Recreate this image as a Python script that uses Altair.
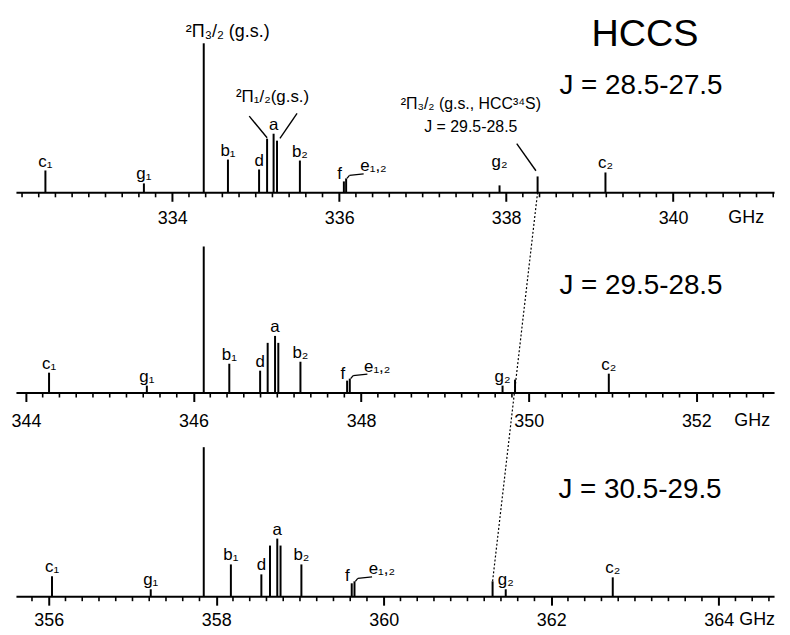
import altair as alt
import numpy as np
import pandas as pd

FONT = "Liberation Sans"

# ---------------- data ----------------
LINE_IDS = ["c1", "g1", "P32", "b1", "d", "P12_lo", "a", "P12_hi", "b2",
            "f", "e12", "g2", "HCC34S", "c2"]

# J = 28.5-27.5
top_freq = [332.48, 333.66, 334.377, 334.667, 335.04, 335.136, 335.214, 335.255,
            335.529, 336.056, 336.083, 337.921, 338.377, 339.19]
top_int = [22, 9, 150, 33, 23, 54, 59, 52, 32, 11, 14, 7, 16, 20]

# J = 29.5-28.5
mid_freq = [344.276, 345.443, 346.122, 346.427, 346.795, 346.885, 346.973, 347.012,
            347.276, 347.833, 347.865, 349.688, 349.837, 350.956]
mid_int = [20, 7, 147, 29, 22, 50, 57, 50, 31, 12, 14, 7, 13, 19]

# J = 30.5-29.5
bot_freq = [356.039, 357.218, 357.851, 358.175, 358.539, 358.642, 358.729, 358.768,
            359.017, 359.618, 359.651, 361.457, 361.30, 362.735]
bot_int = [20, 7, 150, 32, 22, 51, 58, 51, 32, 13, 15, 7, 15, 19]

ABOVE_LABELS = {"c1": "c₁", "g1": "g₁", "b1": "b₁", "d": "d", "a": "a",
                "b2": "b₂", "g2": "g₂", "c2": "c₂"}
F_TEXT = "f"
E_TEXT = "e₁,₂"

top_ticks = [334, 336, 338, 340]
mid_ticks = [344, 346, 348, 350, 352]
bot_ticks = [356, 358, 360, 362, 364]

top_range = [332.127, 341.210]
mid_range = [343.881, 352.928]
bot_range = [355.6085, 364.661]

TITLE = "HCCS"
top_J = "J = 28.5-27.5"
mid_J = "J = 29.5-28.5"
bot_J = "J = 30.5-29.5"
P32_TEXT = "²Π₃/₂ (g.s.)"
P12_TEXT = "²Π₁/₂(g.s.)"
ISO_TEXT = ["²Π₃/₂ (g.s., HCC³⁴S)", "J = 29.5-28.5"]
UNIT = "GHz"

# ---------------- layout ----------------
W, H = 763, 590
LEFT = 16  # page x of plot area
TICK_FS = 18


def fx(rng, px):
    return rng[0] + (px - LEFT) / W * (rng[1] - rng[0])


YS = alt.Scale(domain=[0, H], nice=False, zero=False)


def make_panel(freq, inten, rng, ticks, base, label_pad, j_text, j_px, ghz_px,
               lift=None, top_extras=False, connector=None):
    lift = lift or {}
    xs = alt.Scale(domain=rng, nice=False, zero=False)
    ax = alt.Axis(values=ticks, orient="bottom", offset=-base, tickSize=9, tickWidth=2,
                  tickColor="black", domainColor="black", domainWidth=2,
                  labelFont=FONT, labelFontSize=TICK_FS, labelColor="black",
                  labelPadding=label_pad, grid=False, title=None,
                  labelFlush=False, labelOverlap=False, format="d")

    def X(field):
        return alt.X(f"{field}:Q", scale=xs, axis=ax)

    def Y(field):
        return alt.Y(f"{field}:Q", scale=YS, axis=None)

    d = dict(zip(LINE_IDS, zip(freq, inten)))
    layers = []

    # sticks
    sdf = pd.DataFrame({"f": freq, "y0": [base] * len(freq),
                        "y1": [base + h for h in inten]})
    layers.append(alt.Chart(sdf).mark_rule(color="black", strokeWidth=2)
                  .encode(x=X("f"), y=Y("y0"), y2="y1:Q"))

    # minor ticks every 0.2 GHz
    start = np.ceil(rng[0] / 0.2) * 0.2
    mt = [round(v, 1) for v in np.arange(start, rng[1], 0.2)]
    mt = [v for v in mt if abs(v / 2 - round(v / 2)) > 1e-6]
    mdf = pd.DataFrame({"f": mt, "y0": base, "y1": base - 5})
    layers.append(alt.Chart(mdf).mark_rule(color="black", strokeWidth=1.6)
                  .encode(x=X("f"), y=Y("y0"), y2="y1:Q"))

    # labels above sticks
    rows = [{"f": d[k][0], "y": base + d[k][1] + 4 + lift.get(k, 0), "t": v}
            for k, v in ABOVE_LABELS.items()]
    layers.append(alt.Chart(pd.DataFrame(rows))
                  .mark_text(font=FONT, fontSize=17, color="black", baseline="alphabetic")
                  .encode(x=X("f"), y=Y("y"), text="t:N"))

    # f label
    ff, fh = d["f"]
    layers.append(alt.Chart(pd.DataFrame([{"f": ff, "y": base + fh + 2, "t": F_TEXT}]))
                  .mark_text(font=FONT, fontSize=17, color="black", baseline="alphabetic",
                             align="right", dx=-2)
                  .encode(x=X("f"), y=Y("y"), text="t:N"))

    # e label + leader
    ef, eh = d["e12"]
    layers.append(alt.Chart(pd.DataFrame([{"f": ef + 0.17, "y": base + eh + 7, "t": E_TEXT}]))
                  .mark_text(font=FONT, fontSize=17, color="black", baseline="alphabetic",
                             align="left")
                  .encode(x=X("f"), y=Y("y"), text="t:N"))
    ldf = pd.DataFrame([
        {"f": ef + 0.01, "f2": ef + 0.04, "y": base + eh, "y2": base + eh + 3},
        {"f": ef + 0.04, "f2": ef + 0.21, "y": base + eh + 3, "y2": base + eh + 4.5},
    ])
    layers.append(alt.Chart(ldf).mark_rule(color="black", strokeWidth=1.3)
                  .encode(x=X("f"), x2="f2:Q", y=Y("y"), y2="y2:Q"))

    # J label
    layers.append(alt.Chart(pd.DataFrame([{"f": fx(rng, j_px), "y": base + 107, "t": j_text}]))
                  .mark_text(font=FONT, fontSize=28, color="black", baseline="middle",
                             align="left")
                  .encode(x=X("f"), y=Y("y"), text="t:N"))

    # GHz
    layers.append(alt.Chart(pd.DataFrame([{"f": fx(rng, ghz_px), "y": base - 9 - label_pad,
                                           "t": UNIT}]))
                  .mark_text(font=FONT, fontSize=TICK_FS, color="black", baseline="top",
                             align="center")
                  .encode(x=X("f"), y=Y("y"), text="t:N"))

    if top_extras:
        pf, ph = d["P32"]
        l1f, l1h = d["P12_lo"]
        af, ah = d["a"]
        l2f, l2h = d["P12_hi"]
        hf, hh = d["HCC34S"]
        tdf = pd.DataFrame([{"f": fx(rng, 649), "y": base + 158.7, "t": TITLE}])
        layers.append(alt.Chart(tdf)
                      .mark_text(font=FONT, fontSize=38, color="black", baseline="middle",
                                 align="center")
                      .encode(x=X("f"), y=Y("y"), text="t:N"))
        layers.append(alt.Chart(pd.DataFrame([{"f": pf, "y": base + ph + 6, "t": P32_TEXT}]))
                      .mark_text(font=FONT, fontSize=18, color="black", baseline="alphabetic",
                                 align="left", dx=-18)
                      .encode(x=X("f"), y=Y("y"), text="t:N"))
        layers.append(alt.Chart(pd.DataFrame([{"f": (l1f + af + l2f) / 3, "y": base + ah + 32,
                                               "t": P12_TEXT}]))
                      .mark_text(font=FONT, fontSize=17, color="black", baseline="alphabetic",
                                 align="center")
                      .encode(x=X("f"), y=Y("y"), text="t:N"))
        layers.append(alt.Chart(pd.DataFrame([
            {"f": hf - 0.8, "y": base + hh + 72.7, "t": ISO_TEXT[0]},
            {"f": hf - 0.8, "y": base + hh + 49.7, "t": ISO_TEXT[1]},
        ])).mark_text(font=FONT, fontSize=16, color="black", baseline="middle",
                      align="center")
            .encode(x=X("f"), y=Y("y"), text="t:N"))
        lead = pd.DataFrame([
            {"f": l1f - 0.214, "f2": l1f, "y": base + l1h + 22.7, "y2": base + l1h + 1},
            {"f": l2f + 0.24, "f2": l2f + 0.035, "y": base + l2h + 27.4, "y2": base + l2h + 2.4},
            {"f": hf - 0.25, "f2": hf - 0.02, "y": base + hh + 33, "y2": base + hh + 5.7},
        ])
        layers.append(alt.Chart(lead).mark_rule(color="black", strokeWidth=1.4)
                      .encode(x=X("f"), x2="f2:Q", y=Y("y"), y2="y2:Q"))

    if connector is not None:
        layers.append(alt.Chart(connector)
                      .mark_line(color="black", strokeWidth=1.2, strokeDash=[2, 2])
                      .encode(x=X("f"), y=Y("y"), order="o:O"))

    return alt.layer(*layers)


TOP_BASE, MID_BASE, BOT_BASE = 406.5, 205, 0

# dotted connector: HCC34S line of the top panel -> HCC34S line of the bottom panel,
# expressed in the middle panel's frequency frame
iso = LINE_IDS.index("HCC34S")


def reframe(f, src, dst):
    return dst[0] + (f - src[0]) / (src[1] - src[0]) * (dst[1] - dst[0])


conn = pd.DataFrame({
    "f": [reframe(top_freq[iso], top_range, mid_range),
          reframe(bot_freq[iso], bot_range, mid_range)],
    "y": [TOP_BASE, BOT_BASE + bot_int[iso]],
    "o": [0, 1],
})

top = make_panel(top_freq, top_int, top_range, top_ticks, TOP_BASE, 8, top_J, 563, 751,
                 lift={"g2": 14}, top_extras=True)
mid = make_panel(mid_freq, mid_int, mid_range, mid_ticks, MID_BASE, 11, mid_J, 563, 757,
                 connector=conn)
bot = make_panel(bot_freq, bot_int, bot_range, bot_ticks, BOT_BASE, 6, bot_J, 562, 762)

chart = (
    alt.layer(top, mid, bot)
    .resolve_scale(x="independent")
    .resolve_axis(x="independent")
    .properties(width=W, height=H,
                padding={"left": 8, "top": 0, "right": 8, "bottom": 37},
                autosize=alt.AutoSizeParams(type="none"))
    .configure_view(stroke=None)
)

chart.save("out.html", embed_options={"renderer": "svg", "actions": False})
